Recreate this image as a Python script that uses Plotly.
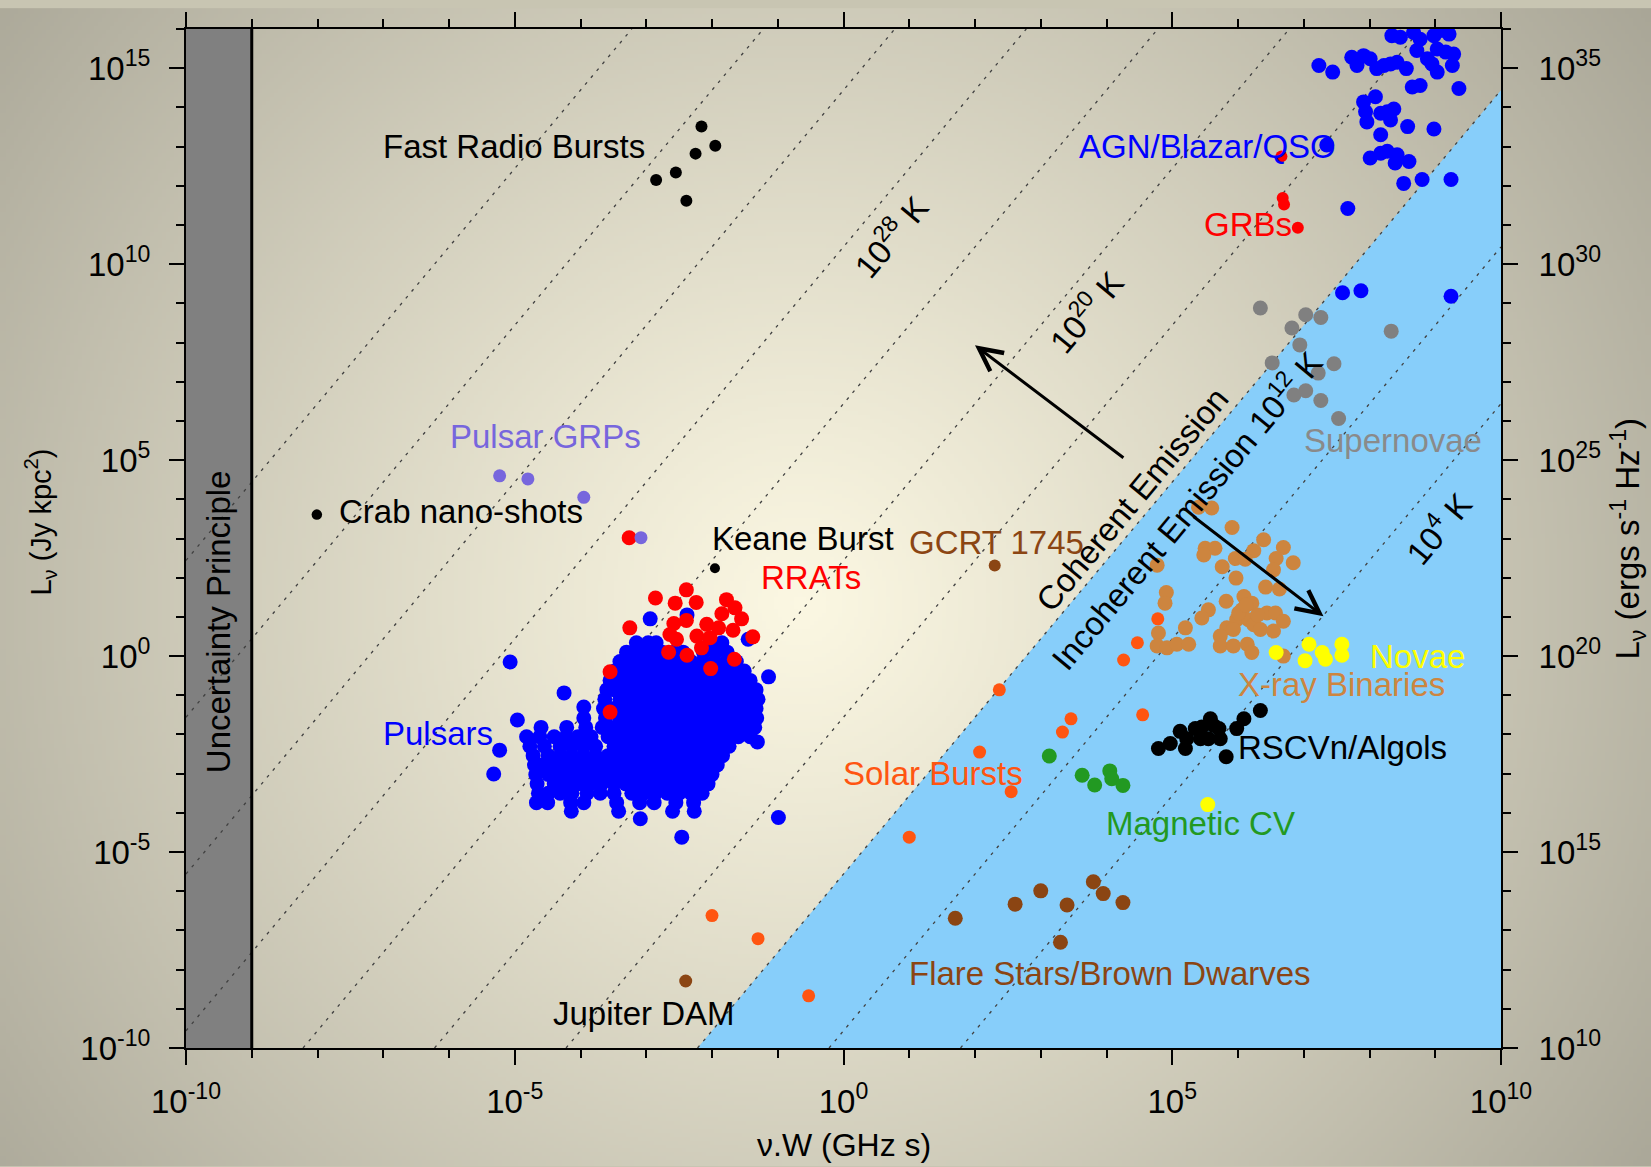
import base64
import struct
import zlib

import numpy as np
import plotly.graph_objects as go

# ---------------------------------------------------------------- canvas
W, H = 1651, 1167
M_L, M_R, M_T, M_B = 186, 150, 21, 119
PW, PH = W - M_L - M_R, H - M_T - M_B

X_RANGE = [-10, 10]   # log10(nu W / GHz s)
Y_RANGE = [-10, 16]   # log10(L / Jy kpc^2)
Y2_OFFSET = 20        # ergs s^-1 Hz^-1 scale = Jy kpc^2 scale + 20 decades

# brightness temperature: log L = log T + 2 log(nuW) + TB_OFFSET
TB_OFFSET = -17.56
T_LINES = [4, 8, 12, 16, 20, 24, 28, 32, 36, 40]
T_BOUNDARY = 12
UNCERTAINTY_LIMIT = -9

FONT = "Liberation Sans, Arial, Helvetica, sans-serif"

# ---------------------------------------------------------------- data (log10 values)
frb_x = [-2.16, -1.95, -2.25, -2.55, -2.85, -2.39]
frb_y = [13.51, 13.02, 12.82, 12.34, 12.15, 11.62]

crab_x, crab_y = [-8.01], [3.61]
keane_x, keane_y = [-1.955], [2.24]
gcrt_x, gcrt_y = [2.30], [2.31]
jupiter_x, jupiter_y = [-2.40], [-8.29]

grp_x = [-5.23, -4.80, -3.95, -3.08]
grp_y = [4.60, 4.52, 4.05, 3.02]

rrat_x = [-3.26, -2.39, -2.86, -2.56, -2.24, -1.78, -1.65, -1.55, -1.85, -2.39,
          -2.58, -2.08, -1.90, -1.68, -1.38, -3.25, -2.64, -2.54, -2.23, -2.03,
          -2.16, -2.66, -2.38, -1.66, -2.02, -3.55, -3.55]
rrat_y = [3.02, 1.69, 1.48, 1.35, 1.37, 1.44, 1.23, 0.95, 1.08, 0.91,
          0.83, 0.81, 0.72, 0.66, 0.49, 0.72, 0.55, 0.43, 0.51, 0.47,
          0.21, 0.10, 0.02, -0.08, -0.32, -0.40, -1.43]

# pulsar population, listed row by row: (log L, [log nuW, ...])
pulsar_rows = [
    (1.05, [-2.38]),
    (0.95, [-2.94]),
    (0.43, [-1.45]),
    (0.34, [-3.15, -2.97, -2.85, -2.03, -1.85]),
    (0.10, [-3.30, -3.12, -2.94, -2.76, -2.58, -2.44, -2.13, -1.95, -1.77]),
    (-0.14, [-3.40, -3.22, -3.04, -2.86, -2.68, -2.50, -2.32, -2.14, -1.96, -1.78, -1.63]),
    (-0.38, [-3.48, -3.31, -3.13, -2.95, -2.77, -2.59, -2.41, -2.23, -2.05, -1.87, -1.69, -1.51]),
    (-0.53, [-1.14]),
    (-0.62, [-3.55, -3.40, -3.22, -3.04, -2.86, -2.68, -2.50, -2.32, -2.14, -1.96, -1.78, -1.60, -1.42]),
    (-0.86, [-3.60, -3.49, -3.31, -3.13, -2.95, -2.77, -2.59, -2.41, -2.23, -2.05, -1.87, -1.69, -1.51, -1.33]),
    (-1.10, [-3.63, -3.40, -3.22, -3.04, -2.86, -2.68, -2.50, -2.32, -2.14, -1.96, -1.78, -1.60, -1.42, -1.30]),
    (-1.34, [-3.65, -3.49, -3.31, -3.13, -2.95, -2.77, -2.59, -2.41, -2.23, -2.05, -1.87, -1.69, -1.51, -1.33]),
    (-1.58, [-3.95, -3.62, -3.40, -3.22, -3.04, -2.86, -2.68, -2.50, -2.32, -2.14, -1.96, -1.78, -1.60, -1.42, -1.32]),
    (-1.82, [-4.60, -4.21, -3.92, -3.67, -3.49, -3.31, -3.13, -2.95, -2.77, -2.59, -2.41, -2.23, -2.05,
             -1.87, -1.69, -1.51, -1.35]),
    (-2.06, [-4.82, -4.62, -4.40, -4.22, -4.04, -3.84, -3.58, -3.40, -3.22, -3.04, -2.86, -2.68, -2.50,
             -2.32, -2.14, -1.96, -1.78, -1.60, -1.42]),
    (-2.19, [-1.31]),
    (-2.30, [-4.77, -4.55, -4.31, -4.13, -3.95, -3.77, -3.49, -3.31, -3.13, -2.95, -2.77, -2.59, -2.41,
             -2.23, -2.05, -1.87, -1.74]),
    (-2.54, [-4.72, -4.49, -4.31, -4.13, -3.95, -3.77, -3.58, -3.40, -3.22, -3.04, -2.86, -2.68, -2.50,
             -2.32, -2.14, -1.96, -1.84]),
    (-2.78, [-4.70, -4.58, -4.40, -4.22, -4.04, -3.86, -3.68, -3.49, -3.31, -3.13, -2.95, -2.77, -2.59,
             -2.41, -2.23, -2.05, -1.92]),
    (-3.02, [-4.68, -4.49, -4.31, -4.13, -3.95, -3.77, -3.58, -3.40, -3.22, -3.04, -2.86, -2.68, -2.50,
             -2.32, -2.14, -2.00]),
    (-3.26, [-4.66, -4.40, -4.22, -4.04, -3.86, -3.68, -3.49, -3.31, -3.13, -2.95, -2.77, -2.59, -2.41,
             -2.23, -2.06]),
    (-3.50, [-4.64, -4.49, -4.31, -4.13, -3.90, -3.70, -3.49, -3.22, -3.04, -2.86, -2.68, -2.50, -2.32,
             -2.15]),
    (-3.74, [-4.67, -4.50, -4.15, -3.95, -3.45, -3.10, -2.88, -2.55, -2.28]),
    (-3.96, [-4.14, -3.42, -2.60, -2.27]),
    (-0.15, [-5.07]),
    (-0.94, [-4.25]),
    (-1.30, [-3.95]),
    (-1.63, [-4.96]),
    (-2.40, [-5.23]),
    (-3.01, [-5.32]),
    (-4.12, [-0.99]),
    (-4.15, [-3.09]),
    (-4.62, [-2.46]),
]

agn_x = [7.23, 7.44, 7.73, 7.81, 7.91, 8.01, 8.11, 8.22, 8.32, 8.42,
         8.56, 8.34, 8.47, 8.67, 8.77, 8.72, 8.88, 8.98, 9.08, 9.21,
         9.03, 9.16, 9.28, 9.26, 9.03, 8.95, 8.65, 8.77, 9.36, 8.09,
         7.91, 7.94, 7.96, 8.17, 8.27, 8.37, 8.32, 8.17, 8.58, 8.98,
         8.01, 8.17, 8.27, 8.39, 8.42, 8.60, 8.52, 8.80, 9.24, 7.67,
         7.35, 7.59, 7.87, 9.24]
agn_y = [15.07, 14.90, 15.28, 15.07, 15.32, 15.24, 14.99, 15.07, 15.11, 15.15,
         14.99, 15.83, 15.79, 15.91, 15.74, 15.45, 15.24, 15.83, 15.96, 15.87,
         15.49, 15.41, 15.36, 15.07, 14.90, 15.11, 14.52, 14.56, 14.48, 14.27,
         14.14, 13.89, 13.63, 13.85, 13.89, 13.96, 13.68, 13.30, 13.51, 13.45,
         12.71, 12.83, 12.88, 12.58, 12.79, 12.62, 12.06, 12.16, 12.16, 11.42,
         13.04, 9.27, 9.32, 9.18]

grb_x = [6.66, 6.68, 6.70, 6.91]
grb_y = [12.75, 11.69, 11.52, 10.93]

sn_x = [6.34, 6.82, 7.03, 7.26, 6.94, 7.46, 7.22, 8.33, 6.85, 7.03, 7.26, 6.52, 7.53]
sn_y = [8.88, 8.37, 8.71, 8.64, 7.94, 7.46, 7.22, 8.29, 6.66, 6.77, 6.52, 7.48, 6.06]

xrb_x = [5.40, 5.60, 5.91, 6.39, 5.50, 5.65, 5.48, 6.24, 5.96, 6.11,
         6.69, 6.58, 6.84, 5.76, 6.54, 4.77, 5.97, 6.42, 6.63, 4.91,
         4.89, 6.09, 6.21, 5.82, 5.55, 5.45, 6.06, 5.98, 6.44, 6.57,
         6.69, 6.16, 6.24, 6.34, 6.54, 5.20, 4.79, 5.83, 5.73, 5.93,
         4.77, 4.92, 5.07, 5.25, 5.73, 5.93, 6.14, 6.21, 6.69, 6.01,
         6.12, 6.30]
xrb_y = [3.80, 3.78, 3.28, 2.97, 2.75, 2.75, 2.58, 2.69, 2.49, 2.47,
         2.77, 2.49, 2.38, 2.28, 2.20, 2.32, 1.99, 1.76, 1.71, 1.62,
         1.35, 1.52, 1.35, 1.40, 1.18, 0.97, 1.18, 0.93, 1.10, 1.10,
         0.89, 0.93, 0.80, 0.68, 0.64, 0.72, 0.59, 0.72, 0.51, 0.68,
         0.26, 0.21, 0.30, 0.30, 0.26, 0.26, 0.30, 0.09, 0.00, 1.10,
         1.30, 1.05]

novae_x = [6.58, 7.08, 7.02, 7.28, 7.33, 7.58, 7.58, 5.54]
novae_y = [0.09, 0.30, -0.12, 0.09, -0.08, 0.30, 0.02, -3.79]

solar_x = [4.78, 4.47, 4.26, 4.55, 2.37, 3.46, 3.33, 2.07, 2.55, 1.00, -2.00, -1.30, -0.53]
solar_y = [0.95, 0.34, -0.10, -1.50, -0.86, -1.60, -1.94, -2.45, -3.46, -4.62, -6.62, -7.21, -8.67]

mcv_x = [3.13, 3.63, 3.82, 4.05, 4.08, 4.25]
mcv_y = [-2.55, -3.04, -3.29, -2.93, -3.13, -3.30]

flare_x = [1.70, 2.61, 3.00, 3.40, 3.80, 3.95, 3.30, 4.25]
flare_y = [-6.69, -6.33, -5.99, -6.35, -5.76, -6.06, -7.30, -6.29]

rscvn_x = [4.79, 4.97, 5.12, 5.22, 5.20, 5.35, 5.45, 5.43, 5.58, 5.63,
           5.55, 5.71, 5.73, 5.98, 6.09, 6.34, 5.82]
rscvn_y = [-2.36, -2.23, -1.92, -2.11, -2.36, -1.85, -1.81, -2.11, -1.60, -1.77,
           -2.11, -1.85, -2.11, -1.85, -1.60, -1.39, -2.57]

# ---------------------------------------------------------------- colours
BLUE = "#0000ff"
RED = "#ff0000"
PURPLE = "#7766dd"
GREY = "#808080"
PERU = "#cd853f"
YELLOW = "#ffff00"
ORANGE = "#ff5511"
GREEN = "#229922"
BROWN = "#8b4513"
SKY = "#87cefa"

DOT = 15


def pw10(v):
    return [10.0 ** a for a in v]


def t_line(log_t, log_x):
    return log_t + 2 * log_x + TB_OFFSET


# ---------------------------------------------------------------- radial background
def gradient_png():
    gh, gw = 292, 413
    yy, xx = np.mgrid[0:gh, 0:gw]
    px = (xx + 0.5) * W / gw
    py = (yy + 0.5) * H / gh
    r = np.hypot(px - 800, py - 600) / 1050.0
    t = np.clip(r, 0, 1) ** 1.1
    c0 = np.array([251, 247, 226], float)
    c1 = np.array([168, 165, 150], float)
    rgb = (c0 + (c1 - c0) * t[..., None]).round().astype(np.uint8)
    raw = b"".join(b"\x00" + rgb[i].tobytes() for i in range(gh))

    def chunk(tag, data):
        body = tag + data
        return struct.pack(">I", len(data)) + body + struct.pack(">I", zlib.crc32(body) & 0xFFFFFFFF)

    png = (b"\x89PNG\r\n\x1a\n"
           + chunk(b"IHDR", struct.pack(">IIBBBBB", gw, gh, 8, 2, 0, 0, 0))
           + chunk(b"IDAT", zlib.compress(raw, 9))
           + chunk(b"IEND", b""))
    return "data:image/png;base64," + base64.b64encode(png).decode()


fig = go.Figure()

# uncertainty-principle band
fig.add_trace(go.Scatter(
    x=pw10([X_RANGE[0], UNCERTAINTY_LIMIT, UNCERTAINTY_LIMIT, X_RANGE[0]]),
    y=pw10([Y_RANGE[0], Y_RANGE[0], Y_RANGE[1], Y_RANGE[1]]),
    fill="toself", fillcolor=GREY, line=dict(width=0), mode="lines",
    hoverinfo="skip", showlegend=False))

# incoherent emission region (below the boundary temperature)
xb = (Y_RANGE[0] - T_BOUNDARY - TB_OFFSET) / 2
fig.add_trace(go.Scatter(
    x=pw10([xb, X_RANGE[1], X_RANGE[1], xb]),
    y=pw10([Y_RANGE[0], t_line(T_BOUNDARY, X_RANGE[1]), Y_RANGE[0], Y_RANGE[0]]),
    fill="toself", fillcolor=SKY, line=dict(width=0), mode="lines",
    hoverinfo="skip", showlegend=False))

# constant brightness temperature lines
for lt in T_LINES:
    x0 = max(X_RANGE[0], (Y_RANGE[0] - lt - TB_OFFSET) / 2)
    x1 = min(X_RANGE[1], (Y_RANGE[1] - lt - TB_OFFSET) / 2)
    fig.add_trace(go.Scatter(
        x=pw10([x0, x1]), y=pw10([t_line(lt, x0), t_line(lt, x1)]),
        mode="lines", line=dict(color="#404040", width=1.3, dash="3px,6px"),
        hoverinfo="skip", showlegend=False))

# edge of the uncertainty band
fig.add_trace(go.Scatter(
    x=pw10([UNCERTAINTY_LIMIT, UNCERTAINTY_LIMIT]), y=pw10(Y_RANGE),
    mode="lines", line=dict(color="black", width=3),
    hoverinfo="skip", showlegend=False))


def dots(xs, ys, color, size=DOT):
    fig.add_trace(go.Scatter(
        x=pw10(xs), y=pw10(ys), mode="markers",
        marker=dict(color=color, size=size, line=dict(width=0)),
        hoverinfo="skip", showlegend=False))


pulsar_x = [x for ly, row in pulsar_rows for x in row]
pulsar_y = [ly for ly, row in pulsar_rows for _ in row]

dots(pulsar_x, pulsar_y, BLUE)
dots(rrat_x, rrat_y, RED)
dots(grp_x, grp_y, PURPLE, 13)
dots(frb_x, frb_y, "black", 12)
dots(crab_x, crab_y, "black", 10.5)
dots(keane_x, keane_y, "black", 10)
dots(gcrt_x, gcrt_y, BROWN, 12)
dots(jupiter_x, jupiter_y, BROWN, 13)
dots(agn_x, agn_y, BLUE)
dots(grb_x, grb_y, RED, 12)
dots(sn_x, sn_y, GREY)
dots(xrb_x, xrb_y, PERU)
dots(novae_x, novae_y, YELLOW)
dots(solar_x, solar_y, ORANGE, 13)
dots(mcv_x, mcv_y, GREEN)
dots(flare_x, flare_y, BROWN)
dots(rscvn_x, rscvn_y, "black")

# secondary axis carrier
fig.add_trace(go.Scatter(x=[1.0], y=[1e20], yaxis="y2", mode="markers",
                         marker=dict(opacity=0), hoverinfo="skip", showlegend=False))

# ---------------------------------------------------------------- annotations
ANG = -np.degrees(np.arctan2(2 * PH / (Y_RANGE[1] - Y_RANGE[0]), PW / (X_RANGE[1] - X_RANGE[0])))
ANN = 33

labels = [
    ("Fast Radio Bursts", -5.01, 13.0, "black", 0, "center"),
    ("AGN/Blazar/QSO", 5.53, 13.0, BLUE, 0, "center"),
    ("GRBs", 6.15, 11.02, RED, 0, "center"),
    ("Pulsar GRPs", -4.54, 5.61, PURPLE, 0, "center"),
    ("Crab nano-shots", -7.70, 3.70, "black", 0, "left"),
    ("Keane Burst", -0.62, 3.0, "black", 0, "center"),
    ("RRATs", -0.49, 2.01, RED, 0, "center"),
    ("GCRT 1745", 2.33, 2.91, BROWN, 0, "center"),
    ("Pulsars", -6.16, -1.98, BLUE, 0, "center"),
    ("Solar Bursts", 1.36, -3.0, ORANGE, 0, "center"),
    ("Magnetic CV", 5.43, -4.26, GREEN, 0, "center"),
    ("Flare Stars/Brown Dwarves", 4.06, -8.10, BROWN, 0, "center"),
    ("Jupiter DAM", -3.03, -9.11, "black", 0, "center"),
    ("X-ray Binaries", 7.57, -0.72, PERU, 0, "center"),
    ("RSCVn/Algols", 7.59, -2.32, "black", 0, "center"),
    ("Novae", 8.73, 0.0, YELLOW, 0, "center"),
    ("Supernovae", 8.355, 5.49, "#8a8a8a", 0, "center"),
    ("Uncertainty Principle", -9.495, 0.87, "black", -90, "center"),
    ("10<sup>28</sup> K", 0.70, 10.72, "black", ANG, "center"),
    ("10<sup>20</sup> K", 3.67, 8.81, "black", ANG, "center"),
    ("10<sup>4</sup> K", 9.04, 3.29, "black", ANG, "center"),
    ("Coherent Emission", 4.39, 3.99, "black", ANG, "center"),
    ("Incoherent Emission 10<sup>12</sup> K", 5.20, 3.76, "black", ANG, "center"),
]

annotations = []
for text, x, y, color, angle, anchor in labels:
    annotations.append(dict(
        text=text, x=x, y=y, xref="x", yref="y", showarrow=False,
        xanchor=anchor, yanchor="middle", textangle=angle,
        font=dict(family=FONT, size=ANN, color=color)))

for (hx, hy, tx, ty) in [(2.0, 7.93, 4.28, 5.03), (7.30, 1.015, 5.30, 3.59)]:
    annotations.append(dict(
        text="", x=hx, y=hy, ax=tx, ay=ty, xref="x", yref="y", axref="x", ayref="y",
        showarrow=True, arrowhead=5, arrowsize=1.5, arrowwidth=3, arrowcolor="black",
        standoff=0, startstandoff=0))

# axis titles
annotations += [
    dict(text="L<sub>ν</sub> (Jy kpc<sup>2</sup>)", xref="paper", yref="paper",
         x=(40 - M_L) / PW, y=0.5 + 16 / PH, textangle=-90, showarrow=False,
         xanchor="center", yanchor="middle", font=dict(family=FONT, size=29, color="black")),
    dict(text="L<sub>ν</sub> (ergs s<sup>-1</sup> Hz<sup>-1</sup>)", xref="paper", yref="paper",
         x=(1628 - M_L) / PW, y=0.5, textangle=-90, showarrow=False,
         xanchor="center", yanchor="middle", font=dict(family=FONT, size=33, color="black")),
    dict(text="ν.W (GHz s)", xref="paper", yref="paper",
         x=0.5, y=-(1146 - (H - M_B)) / PH, showarrow=False,
         xanchor="center", yanchor="middle", font=dict(family=FONT, size=32, color="black")),
]


def sup_ticks(lo, hi, step):
    vals = list(range(lo, hi + 1, step))
    return [10.0 ** v for v in vals], [f"10<sup>{v}</sup>" for v in vals]


xt_v, xt_t = sup_ticks(-10, 10, 5)
yt_v, yt_t = sup_ticks(-10, 15, 5)
y2t_v, y2t_t = sup_ticks(10, 35, 5)

axis_common = dict(
    type="log", showgrid=False, zeroline=False, showline=True, linecolor="black",
    linewidth=2, ticks="outside", ticklen=15, tickwidth=2, tickcolor="black",
    tickfont=dict(family=FONT, size=33, color="black"),
)

fig.update_layout(
    width=W, height=H,
    margin=dict(l=M_L, r=M_R, t=M_T, b=M_B, pad=0),
    paper_bgcolor="#c8c5b2", plot_bgcolor="rgba(0,0,0,0)",
    font=dict(family=FONT, color="black"),
    showlegend=False,
    xaxis=dict(**axis_common, range=X_RANGE, mirror="ticks",
               tickvals=xt_v, ticktext=xt_t, ticklabelstandoff=8,
               minor=dict(tickvals=[10.0 ** v for v in range(-10, 11)], ticks="outside",
                          ticklen=8, tickwidth=1.5, tickcolor="black")),
    yaxis=dict(**axis_common, range=Y_RANGE,
               tickvals=yt_v, ticktext=yt_t, ticklabelstandoff=12,
               minor=dict(tickvals=[10.0 ** v for v in range(-10, 17)], ticks="outside",
                          ticklen=8, tickwidth=1.5, tickcolor="black")),
    yaxis2=dict(**axis_common, range=[Y_RANGE[0] + Y2_OFFSET, Y_RANGE[1] + Y2_OFFSET],
                overlaying="y", side="right",
                tickvals=y2t_v, ticktext=y2t_t, ticklabelstandoff=14,
                minor=dict(tickvals=[10.0 ** v for v in range(10, 37)], ticks="outside",
                           ticklen=8, tickwidth=1.5, tickcolor="black")),
    annotations=annotations,
    images=[dict(source=gradient_png(), xref="paper", yref="paper",
                 x=-M_L / PW, y=1 + M_T / PH, sizex=W / PW, sizey=H / PH,
                 xanchor="left", yanchor="top", sizing="stretch", layer="below")],
)

fig.write_html("out.html")
